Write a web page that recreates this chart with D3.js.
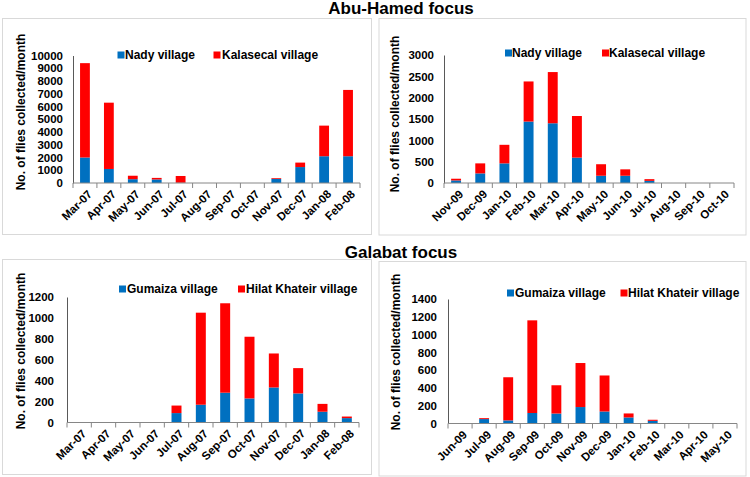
<!DOCTYPE html>
<html><head><meta charset="utf-8">
<script src="https://cdn.jsdelivr.net/npm/d3@7"></script>
<style>
body{margin:0;background:#fff;}
svg{font-family:"Liberation Sans",Arial,sans-serif;font-weight:bold;}
</style></head>
<body><svg id="c" width="750" height="477"></svg>
<script>
// ---------- data ----------
const monthsA1 = ["Mar-07","Apr-07","May-07","Jun-07","Jul-07","Aug-07","Sep-07","Oct-07","Nov-07","Dec-07","Jan-08","Feb-08"];
const nadyA1 = [2000,1100,300,280,20,0,0,0,320,1250,2100,2100];
const kalasecalA1 = [7400,5200,270,120,530,0,0,0,60,350,2400,5200];

const monthsA2 = ["Nov-09","Dec-09","Jan-10","Feb-10","Mar-10","Apr-10","May-10","Jun-10","Jul-10","Aug-10","Sep-10","Oct-10"];
const nadyA2 = [60,225,460,1440,1400,595,170,170,50,0,0,0];
const kalasecalA2 = [40,235,435,940,1200,975,270,150,40,0,0,0];

const monthsG1 = ["Mar-07","Apr-07","May-07","Jun-07","Jul-07","Aug-07","Sep-07","Oct-07","Nov-07","Dec-07","Jan-08","Feb-08"];
const gumaizaG1 = [0,0,0,0,90,170,285,230,335,278,103,42];
const hilatG1 = [0,0,0,0,72,880,855,590,325,242,75,15];

const monthsG2 = ["Jun-09","Jul-09","Aug-09","Sep-09","Oct-09","Nov-09","Dec-09","Jan-10","Feb-10","Mar-10","Apr-10","May-10"];
const gumaizaG2 = [0,50,35,118,112,185,135,68,30,0,0,0];
const hilatG2 = [0,10,485,1042,318,495,405,45,12,0,0,0];

const yTicks1 = [0,1000,2000,3000,4000,5000,6000,7000,8000,9000,10000];
const yTicks2 = [0,500,1000,1500,2000,2500,3000];
const yTicks3 = [0,200,400,600,800,1000,1200];
const yTicks4 = [0,200,400,600,800,1000,1200,1400];

const titles = ["Abu-Hamed focus","Galabat focus"];
const yTitle = "No. of flies collected/month";
const BLUE = "#0070C0", RED = "#FF0000";

const svg = d3.select("#c");

// titles
svg.append("text").attr("x",401).attr("y",14).attr("text-anchor","middle")
  .attr("font-size","17px").text(titles[0]);
svg.append("text").attr("x",401).attr("y",257.5).attr("text-anchor","middle")
  .attr("font-size","17px").text(titles[1]);

function panel(cfg){
  const g = svg.append("g");
  g.append("rect").attr("x",cfg.box[0]).attr("y",cfg.box[1])
    .attr("width",cfg.box[2]-cfg.box[0]).attr("height",cfg.box[3]-cfg.box[1])
    .attr("fill","none").attr("stroke","#d9d9d9").attr("stroke-width",1);

  const x = d3.scaleBand().domain(cfg.cats).range([cfg.x0,cfg.x1]).paddingInner(0.59).paddingOuter(0.295);
  const xb = d3.scaleBand().domain(cfg.cats).range([cfg.x0,cfg.x1]);
  const ymax = cfg.ticks[cfg.ticks.length-1];
  const y = d3.scaleLinear().domain([0,ymax]).range([cfg.yZero,cfg.yTop]);

  const data = cfg.cats.map((c,i)=>({c, a:cfg.s1[i], b:cfg.s2[i]}));
  g.selectAll(".b1").data(data).join("rect")
    .attr("x",d=>x(d.c)).attr("width",x.bandwidth())
    .attr("y",d=>y(d.a)).attr("height",d=>y(0)-y(d.a)).attr("fill",BLUE);
  g.selectAll(".b2").data(data).join("rect")
    .attr("x",d=>x(d.c)).attr("width",x.bandwidth())
    .attr("y",d=>y(d.a+d.b)).attr("height",d=>y(d.a)-y(d.a+d.b)).attr("fill",RED);

  // y axis
  const ya = g.append("g").attr("transform",`translate(${cfg.x0},0)`)
    .call(d3.axisLeft(y).tickValues(cfg.ticks).tickSize(0).tickPadding(cfg.pad).tickFormat(d3.format("d")));
  ya.select(".domain").attr("stroke","#595959");
  ya.selectAll("text").attr("font-size","11.5px").attr("fill","#000")
    .attr("font-family","Liberation Sans, Arial").attr("font-weight","bold");

  // x axis
  const xa = g.append("g").attr("transform",`translate(0,${cfg.yZero})`);
  xa.append("line").attr("x1",cfg.x0).attr("x2",cfg.x1).attr("stroke","#868686");
  const bounds = cfg.cats.map(c=>xb(c)).concat([cfg.x1]);
  xa.selectAll(".tk").data(bounds).join("line")
    .attr("x1",d=>d).attr("x2",d=>d).attr("y1",0).attr("y2",5).attr("stroke","#868686");
  xa.selectAll(".lb").data(cfg.cats).join("text")
    .attr("transform",d=>`translate(${xb(d)+xb.bandwidth()/2+5},${9}) rotate(-45)`)
    .attr("text-anchor","end").attr("dy","0.35em").attr("font-size","11.5px").text(d=>d);

  // y title
  g.append("text").attr("transform",`translate(${cfg.tx},${cfg.ty}) rotate(-90)`)
    .attr("text-anchor","middle").attr("dy","0.35em").attr("font-size","12px").text(yTitle);

  // legend
  const lg = g.append("g");
  cfg.leg.forEach((l,i)=>{
    lg.append("rect").attr("x",l[0]-3.5).attr("y",cfg.ly-3.5).attr("width",7).attr("height",7)
      .attr("fill",i===0?BLUE:RED);
    lg.append("text").attr("x",l[1]).attr("y",cfg.ly).attr("dy","0.35em")
      .attr("font-size","12px").text(cfg.names[i]);
  });
}

panel({cats:monthsA1,s1:nadyA1,s2:kalasecalA1,ticks:yTicks1,x0:73,x1:360,yZero:183,yTop:55.5,pad:10,
  box:[2.5,18.5,371.5,234.5],tx:21,ty:112,ly:55,leg:[[121,125],[217,222]],names:["Nady village","Kalasecal village"]});
panel({cats:monthsA2,s1:nadyA2,s2:kalasecalA2,ticks:yTicks2,x0:444,x1:734,yZero:183,yTop:55,pad:10,
  box:[379,18.5,746,235],tx:395,ty:114,ly:53,leg:[[508.5,512],[605.5,609]],names:["Nady village","Kalasecal village"]});
panel({cats:monthsG1,s1:gumaizaG1,s2:hilatG1,ticks:yTicks3,x0:67,x1:359,yZero:422.5,yTop:297,pad:13,
  box:[2.5,259.5,371.5,474.5],tx:21,ty:351,ly:289,leg:[[122.5,127],[241.5,246]],names:["Gumaiza village","Hilat Khateir village"]});
panel({cats:monthsG2,s1:gumaizaG2,s2:hilatG2,ticks:yTicks4,x0:448,x1:737,yZero:423.5,yTop:299,pad:11,
  box:[379,261.5,746,476],tx:396,ty:352,ly:293,leg:[[510.5,515],[624,628]],names:["Gumaiza village","Hilat Khateir village"]});
</script></body></html>
